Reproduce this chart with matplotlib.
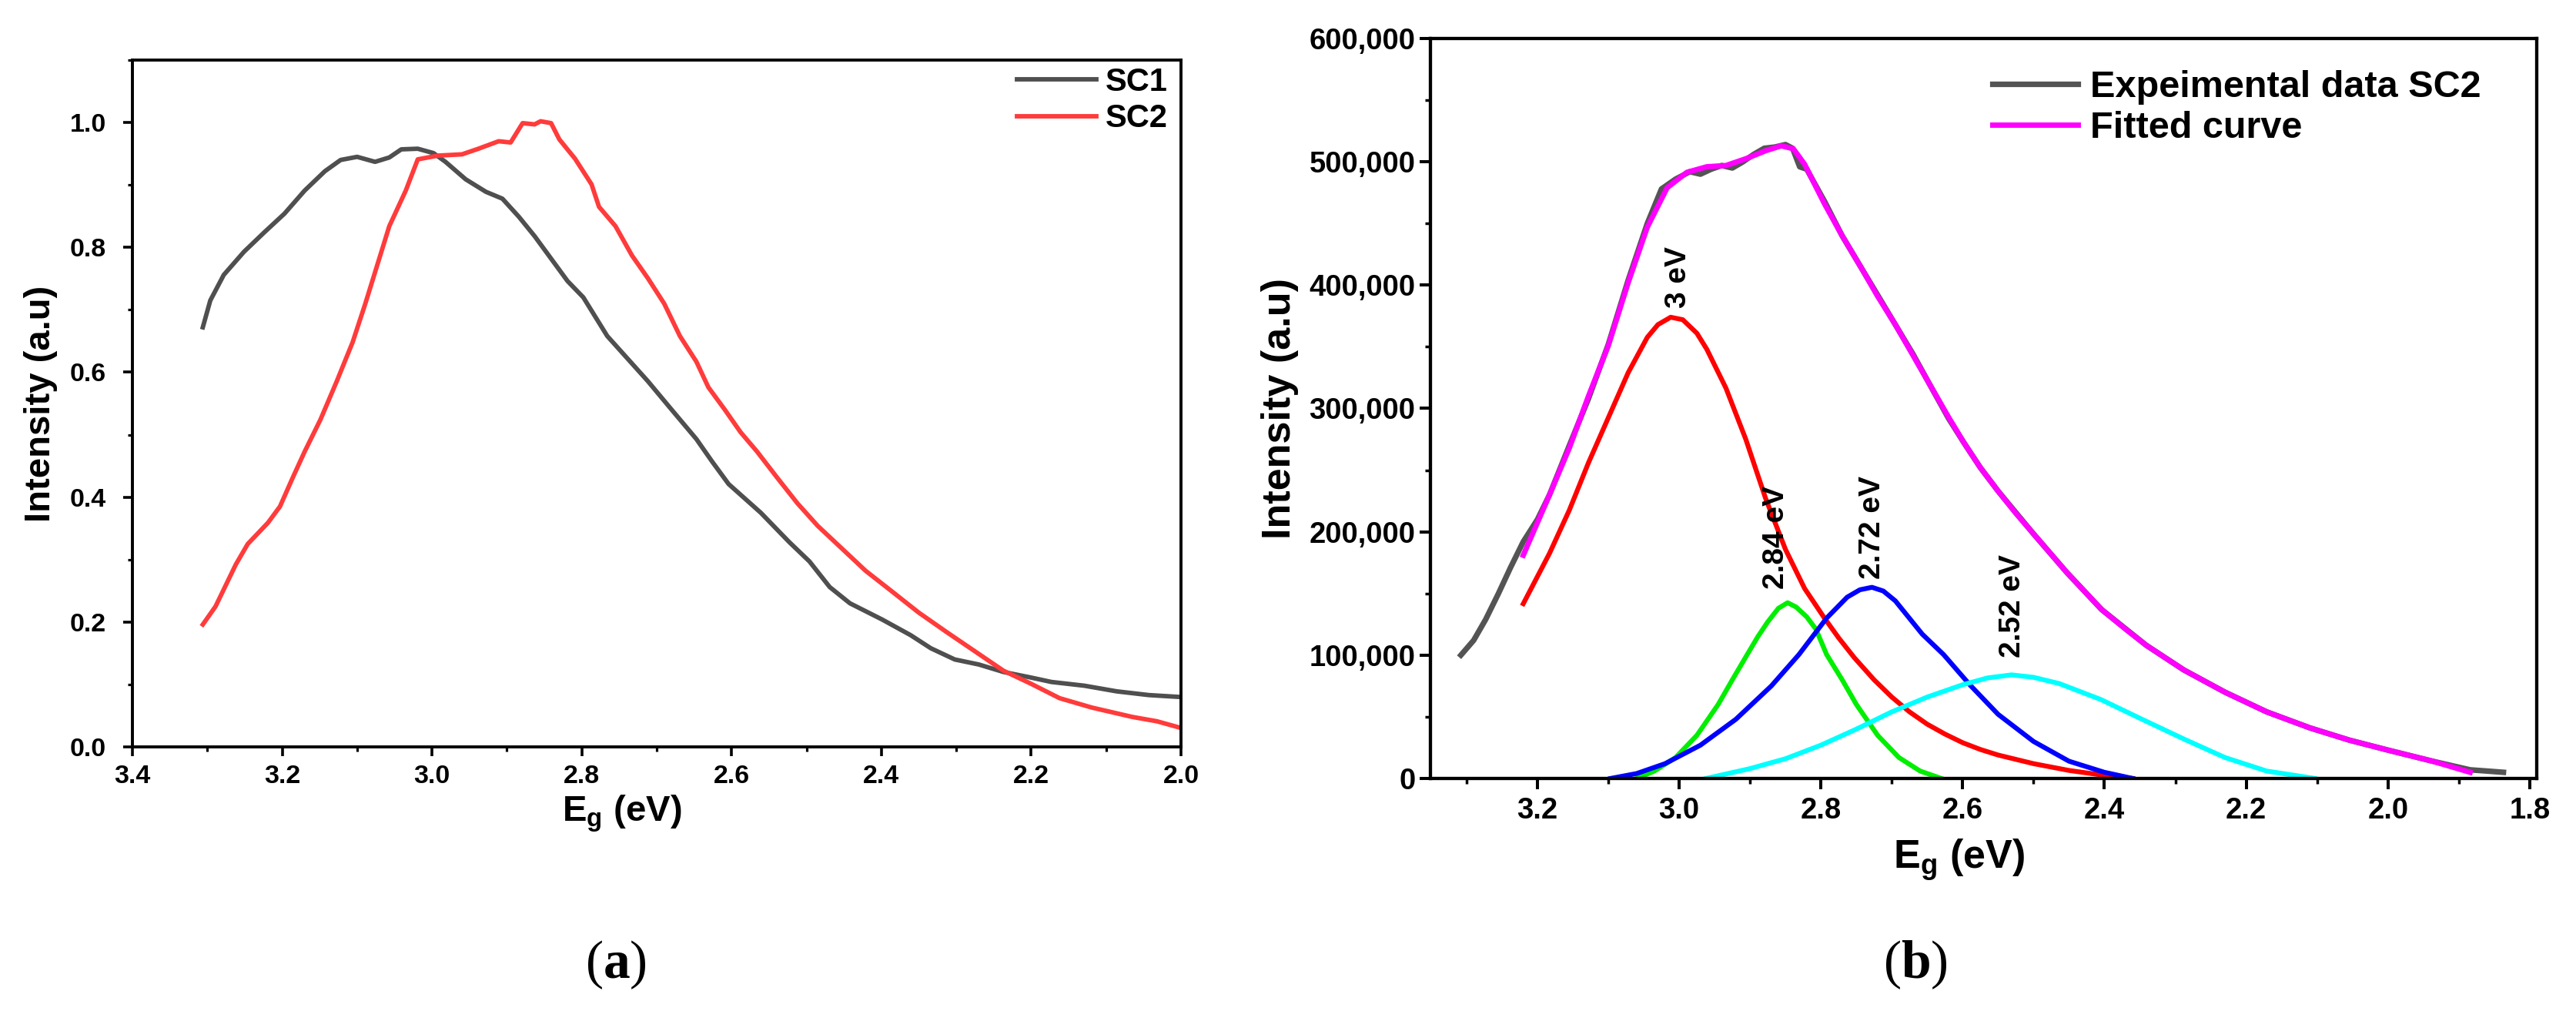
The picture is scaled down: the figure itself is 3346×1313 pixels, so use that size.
import numpy as np
import matplotlib
matplotlib.use('Agg')
import matplotlib.pyplot as plt
from matplotlib.ticker import MultipleLocator, FuncFormatter

plt.rcParams['font.family'] = ['Liberation Sans', 'DejaVu Sans']
plt.rcParams['font.weight'] = 'bold'
plt.rcParams['mathtext.fontset'] = 'custom'
plt.rcParams['mathtext.rm'] = 'Liberation Sans:bold'
plt.rcParams['mathtext.bf'] = 'Liberation Serif:bold'

# ---- panel (a): normalised spectra ----
sc1_x = [3.306, 3.296, 3.278, 3.251, 3.224, 3.197, 3.170, 3.143, 3.122, 3.100,
         3.076, 3.057, 3.041, 3.019, 2.998, 2.982, 2.955, 2.928, 2.906, 2.884,
         2.863, 2.841, 2.819, 2.798, 2.766, 2.712, 2.680, 2.647, 2.626, 2.604,
         2.561, 2.523, 2.496, 2.469, 2.442, 2.399, 2.361, 2.334, 2.302, 2.270,
         2.237, 2.200, 2.173, 2.129, 2.086, 2.043, 2.002]
sc1_y = [0.672, 0.715, 0.756, 0.793, 0.824, 0.854, 0.891, 0.922, 0.940, 0.945,
         0.937, 0.944, 0.957, 0.958, 0.951, 0.937, 0.909, 0.889, 0.878, 0.849,
         0.818, 0.782, 0.746, 0.720, 0.658, 0.586, 0.540, 0.493, 0.457, 0.421,
         0.375, 0.328, 0.297, 0.256, 0.230, 0.204, 0.179, 0.158, 0.140, 0.132,
         0.120, 0.111, 0.104, 0.098, 0.089, 0.083, 0.080]

sc2_x = [3.306, 3.289, 3.262, 3.246, 3.219, 3.203, 3.186, 3.170, 3.149, 3.127,
         3.106, 3.089, 3.073, 3.057, 3.035, 3.019, 2.992, 2.960, 2.938, 2.911,
         2.895, 2.879, 2.863, 2.855, 2.841, 2.830, 2.809, 2.787, 2.777, 2.755,
         2.733, 2.712, 2.690, 2.669, 2.647, 2.631, 2.609, 2.588, 2.566, 2.539,
         2.512, 2.485, 2.453, 2.421, 2.388, 2.350, 2.313, 2.275, 2.237, 2.200,
         2.162, 2.119, 2.065, 2.032, 2.002]
sc2_y = [0.196, 0.225, 0.292, 0.325, 0.359, 0.385, 0.431, 0.473, 0.524, 0.586,
         0.648, 0.710, 0.772, 0.834, 0.891, 0.941, 0.947, 0.949, 0.958, 0.970,
         0.968, 0.999, 0.997, 1.002, 0.999, 0.973, 0.942, 0.901, 0.865, 0.834,
         0.787, 0.751, 0.710, 0.658, 0.617, 0.576, 0.540, 0.504, 0.473, 0.431,
         0.390, 0.354, 0.318, 0.282, 0.251, 0.215, 0.184, 0.153, 0.122, 0.101,
         0.078, 0.063, 0.048, 0.041, 0.031]

# ---- panel (b): SC2 deconvolution (intensities in thousands) ----
exp_x = [3.308, 3.290, 3.273, 3.255, 3.238, 3.220, 3.200, 3.183, 3.155, 3.128,
         3.100, 3.072, 3.045, 3.025, 3.005, 2.985, 2.970, 2.955, 2.940, 2.925,
         2.910, 2.895, 2.880, 2.865, 2.850, 2.840, 2.830, 2.820, 2.795, 2.770,
         2.743, 2.720, 2.695, 2.670, 2.647, 2.620, 2.598, 2.575, 2.550, 2.501,
         2.453, 2.404, 2.341, 2.288, 2.230, 2.171, 2.110, 2.054, 2.000, 1.937,
         1.884, 1.860, 1.837]
exp_y = [100, 112, 129, 150, 171, 192, 210, 230, 270, 308,
         352, 404, 450, 478, 486, 492, 490, 494, 497, 495,
         500, 506, 511, 512, 514, 511, 496, 494, 468, 440,
         414, 392, 368, 344, 320, 292, 272, 252, 233, 199,
         167, 137, 108, 88, 70, 54, 41, 31, 23, 14,
         7, 6, 5]

fit_x = [3.220, 3.183, 3.155, 3.128, 3.100, 3.072, 3.045, 3.017, 2.989, 2.961,
         2.934, 2.906, 2.878, 2.856, 2.839, 2.823, 2.795, 2.770, 2.743, 2.720,
         2.695, 2.670, 2.647, 2.620, 2.598, 2.575, 2.550, 2.525, 2.501, 2.453,
         2.404, 2.370, 2.341, 2.288, 2.230, 2.171, 2.110, 2.054, 2.000, 1.937,
         1.884]
fit_y = [181, 230, 268, 310, 351, 402, 447, 479, 491.5, 496,
         497, 502.5, 509, 513, 510.6, 498, 466, 440, 414, 391,
         368, 343, 320, 293, 272, 252, 233, 215, 199, 167,
         137, 121, 108, 88, 70, 54, 41, 31, 23, 14,
         5]

p300_x = [3.220, 3.183, 3.155, 3.128, 3.100, 3.072, 3.045, 3.030, 3.012, 2.995,
          2.975, 2.961, 2.934, 2.906, 2.878, 2.850, 2.823, 2.795, 2.775, 2.753,
          2.725, 2.700, 2.675, 2.650, 2.625, 2.600, 2.575, 2.550, 2.500, 2.450,
          2.400, 2.360]
p300_y = [141.7, 182.5, 217.6, 256, 292.5, 329, 357.7, 368, 374, 372,
          361, 348, 316.5, 275, 227, 185.7, 154, 130, 114, 98,
          80, 66, 54, 44, 36, 29, 23.5, 19, 12, 6.5,
          2.5, 0]

p284_x = [3.060, 3.035, 3.005, 2.975, 2.945, 2.925, 2.904, 2.889, 2.875, 2.860,
          2.847, 2.835, 2.820, 2.807, 2.792, 2.770, 2.750, 2.720, 2.690, 2.660,
          2.630]
p284_y = [0, 6, 17, 35, 60, 80, 100.5, 115, 127, 138,
          142.5, 139, 131, 121, 100.5, 80, 60, 35, 17, 6,
          0]

p272_x = [3.097, 3.060, 3.020, 2.970, 2.920, 2.870, 2.831, 2.792, 2.763, 2.745,
          2.728, 2.712, 2.695, 2.657, 2.627, 2.590, 2.550, 2.500, 2.450, 2.400,
          2.360]
p272_y = [0, 4, 12, 27, 48, 75, 100.5, 130, 147, 153,
          155, 152, 144, 117, 100.5, 76, 52, 30, 14, 5,
          0]

p252_x = [2.962, 2.900, 2.850, 2.800, 2.750, 2.700, 2.650, 2.600, 2.565, 2.531,
          2.500, 2.464, 2.405, 2.347, 2.288, 2.230, 2.171, 2.103]
p252_y = [0, 8, 16, 27, 40, 54, 66, 76, 81.5, 84,
          82, 77, 64, 48, 32, 17, 6, 0]

peak_labels = ['3 eV', '2.84 eV', '2.72 eV', '2.52 eV']
label_x = [3.001, 2.863, 2.727, 2.530]
label_y = [381.5, 153.6, 161.7, 98.0]

kilo = 1000.0

fig = plt.figure(figsize=(33.46, 13.13), dpi=100)

# ---------------- (a) ----------------
ax1 = fig.add_axes([0.05140, 0.26123, 0.40705, 0.67936])
ax1.plot(sc1_x, sc1_y, color='#4f4f4f', lw=4.2, label='SC1')
ax1.plot(sc2_x, sc2_y, color='#ff3b3b', lw=4.2, label='SC2')
ax1.set_xlim(3.4, 2.0)
ax1.set_ylim(0, 1.1)
ax1.xaxis.set_major_locator(MultipleLocator(0.2))
ax1.xaxis.set_minor_locator(MultipleLocator(0.1))
ax1.yaxis.set_major_locator(MultipleLocator(0.2))
ax1.yaxis.set_minor_locator(MultipleLocator(0.1))
ax1.xaxis.set_major_formatter(FuncFormatter(lambda v, p: f'{v:.1f}'))
ax1.yaxis.set_major_formatter(FuncFormatter(lambda v, p: f'{v:.1f}'))
for s in ax1.spines.values():
    s.set_linewidth(2.8)
ax1.tick_params(which='major', direction='out', length=8.6, width=2.6, labelsize=24.5)
ax1.tick_params(which='minor', direction='out', length=4.5, width=2.3)
ax1.tick_params(axis='y', which='major', pad=16)
ax1.tick_params(axis='x', which='major', pad=8)
ax1.set_xlabel(r'E$_{\mathrm{g}}$ (eV)', fontsize=34, fontweight='bold')
ax1.set_ylabel('Intensity (a.u)', fontsize=34, fontweight='bold')
ax1.xaxis.set_label_coords(0.467, -0.068)
ax1.yaxis.set_label_coords(-0.071, 0.5)
ax1.legend(loc='upper right', bbox_to_anchor=(0.9875, 0.99), frameon=False,
           handlelength=2.45, handletextpad=0.3, labelspacing=0.18,
           borderpad=0, borderaxespad=0, prop={'weight': 'bold', 'size': 30})

# ---------------- (b) ----------------
ax2 = fig.add_axes([0.55529, 0.23001, 0.42947, 0.73191])
ax2.plot(exp_x, np.array(exp_y) * kilo, color='#545454', lw=5.2, label='Expeimental data SC2')
ax2.plot(fit_x, np.array(fit_y) * kilo, color='#ff00ff', lw=5.0, label='Fitted curve')
ax2.plot(p300_x, np.array(p300_y) * kilo, color='#ff0000', lw=4.5)
ax2.plot(p284_x, np.array(p284_y) * kilo, color='#00ee00', lw=4.5)
ax2.plot(p272_x, np.array(p272_y) * kilo, color='#0000ff', lw=4.5)
ax2.plot(p252_x, np.array(p252_y) * kilo, color='#00ffff', lw=4.5)
for t, x, y in zip(peak_labels, label_x, label_y):
    ax2.text(x, y * kilo, t, rotation=90, ha='center', va='bottom',
             fontsize=28, fontweight='bold')
ax2.set_xlim(3.351, 1.79)
ax2.set_ylim(0, 600000)
ax2.xaxis.set_major_locator(MultipleLocator(0.2))
ax2.xaxis.set_minor_locator(MultipleLocator(0.1))
ax2.yaxis.set_major_locator(MultipleLocator(100000))
ax2.yaxis.set_minor_locator(MultipleLocator(50000))
ax2.xaxis.set_major_formatter(FuncFormatter(lambda v, p: f'{v:.1f}'))
ax2.yaxis.set_major_formatter(FuncFormatter(lambda v, p: f'{int(round(v)):,}'))
for s in ax2.spines.values():
    s.set_linewidth(3.1)
ax2.tick_params(which='major', direction='out', length=10, width=2.9, labelsize=27.5)
ax2.tick_params(which='minor', direction='out', length=5, width=2.5)
ax2.tick_params(axis='y', which='major', pad=4)
ax2.tick_params(axis='x', which='major', pad=7)
ax2.set_xlabel(r'E$_{\mathrm{g}}$ (eV)', fontsize=37.5, fontweight='bold')
ax2.set_ylabel('Intensity (a.u)', fontsize=37.5, fontweight='bold')
ax2.xaxis.set_label_coords(0.478, -0.079)
ax2.yaxis.set_label_coords(-0.119, 0.5)
ax2.legend(loc='upper left', bbox_to_anchor=(0.508, 0.957), frameon=False,
           handlelength=2.28, handletextpad=0.33, labelspacing=0.15,
           borderpad=0, borderaxespad=0, prop={'weight': 'bold', 'size': 35})

# panel letters
fig.text(800 / 3346, 1 - 1253 / 1313, r'($\mathbf{a}$)', ha='center', va='center',
         fontsize=50, fontfamily='Liberation Serif', fontweight='normal')
fig.text(2488 / 3346, 1 - 1253 / 1313, r'($\mathbf{b}$)', ha='center', va='center',
         fontsize=50, fontfamily='Liberation Serif', fontweight='normal')

fig.savefig('out.png', dpi=100)
